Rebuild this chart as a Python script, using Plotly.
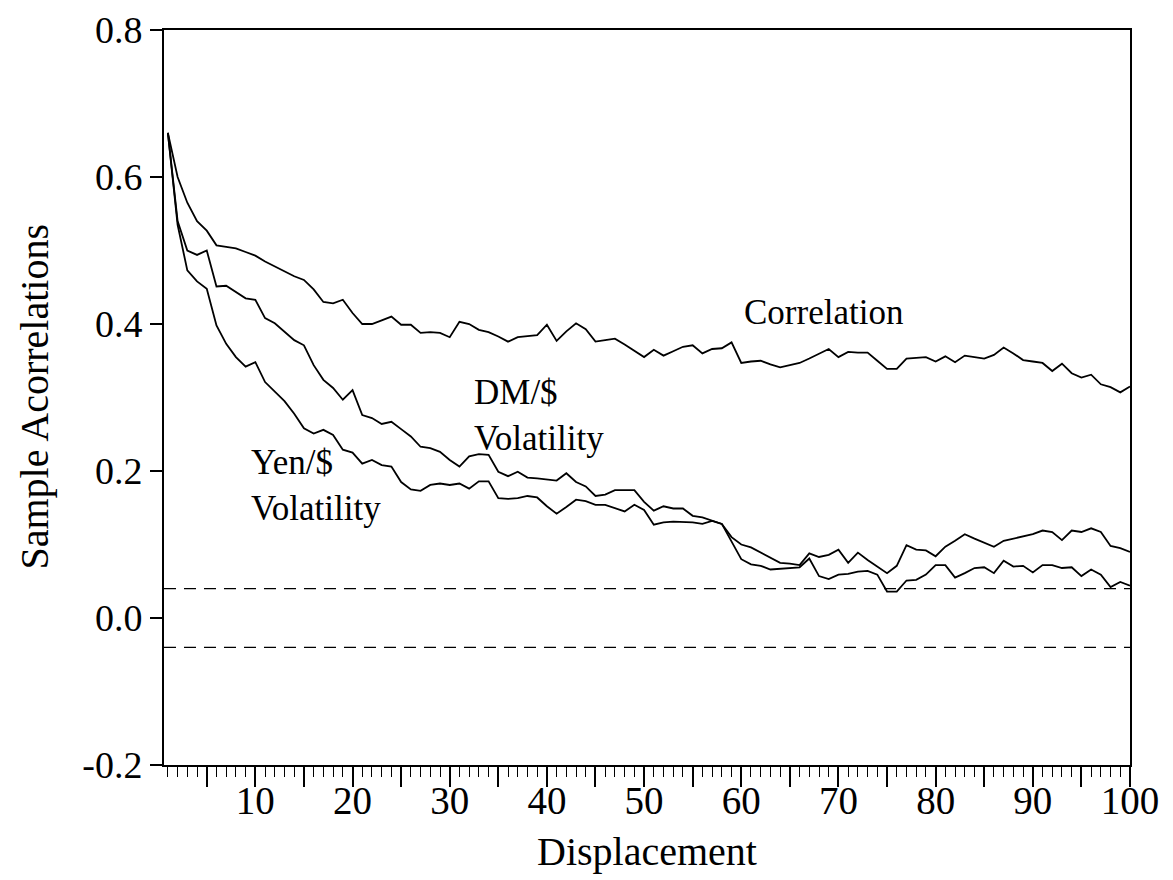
import plotly.graph_objects as go

lags = list(range(1, 101))

correlation = [
    0.66, 0.60, 0.565, 0.54, 0.527, 0.507, 0.505, 0.503, 0.498, 0.493,
    0.485, 0.478, 0.472, 0.465, 0.46, 0.447, 0.43, 0.428, 0.433, 0.415,
    0.40, 0.40, 0.405, 0.41, 0.399, 0.399, 0.388, 0.389, 0.388, 0.382,
    0.403, 0.40, 0.392, 0.389, 0.383, 0.376, 0.382, 0.384, 0.385, 0.399,
    0.377, 0.39, 0.401, 0.393, 0.376, 0.378, 0.38, 0.372, 0.364, 0.355,
    0.365, 0.357, 0.363, 0.369, 0.371, 0.36, 0.366, 0.367, 0.375, 0.347,
    0.349, 0.35, 0.345, 0.341, 0.344, 0.347, 0.353, 0.36, 0.366, 0.355,
    0.362, 0.361, 0.361, 0.35, 0.339, 0.339, 0.353, 0.354, 0.355, 0.349,
    0.356, 0.348, 0.357, 0.355, 0.353, 0.358, 0.368, 0.36, 0.351, 0.349,
    0.347, 0.336, 0.346, 0.333, 0.327, 0.331, 0.318, 0.314, 0.307, 0.315,
]

dm_vol = [
    0.66, 0.54, 0.50, 0.494, 0.50, 0.451, 0.452, 0.443, 0.435, 0.433,
    0.408, 0.401, 0.39, 0.378, 0.371, 0.344, 0.324, 0.313, 0.297, 0.31,
    0.276, 0.272, 0.264, 0.267, 0.257, 0.247, 0.233, 0.231, 0.226, 0.215,
    0.206, 0.22, 0.223, 0.222, 0.199, 0.193, 0.199, 0.191, 0.19, 0.189,
    0.187, 0.197, 0.185, 0.179, 0.166, 0.168, 0.174, 0.174, 0.174, 0.158,
    0.146, 0.152, 0.149, 0.149, 0.139, 0.137, 0.133, 0.128, 0.11, 0.10,
    0.096, 0.089, 0.082, 0.075, 0.074, 0.072, 0.088, 0.083, 0.086, 0.093,
    0.075, 0.089, 0.079, 0.07, 0.061, 0.071, 0.099, 0.093, 0.092, 0.084,
    0.097, 0.105, 0.114, 0.108, 0.103, 0.097, 0.105, 0.108, 0.111, 0.114,
    0.119, 0.117, 0.106, 0.119, 0.117, 0.122, 0.117, 0.098, 0.095, 0.09,
]

yen_vol = [
    0.66, 0.535, 0.473, 0.458, 0.448, 0.398, 0.373, 0.355, 0.342, 0.348,
    0.321, 0.308, 0.295, 0.278, 0.258, 0.251, 0.256, 0.249, 0.229, 0.225,
    0.21, 0.215, 0.208, 0.206, 0.185, 0.175, 0.173, 0.181, 0.183, 0.181,
    0.183, 0.176, 0.186, 0.186, 0.163, 0.162, 0.163, 0.166, 0.164, 0.152,
    0.142, 0.151, 0.161, 0.159, 0.154, 0.154, 0.15, 0.145, 0.154, 0.147,
    0.127, 0.13, 0.131, 0.131, 0.13, 0.128, 0.132, 0.128, 0.105, 0.08,
    0.073, 0.071, 0.066, 0.067, 0.069, 0.069, 0.081, 0.057, 0.053, 0.059,
    0.06, 0.063, 0.064, 0.059, 0.036, 0.036, 0.051, 0.052, 0.059, 0.072,
    0.072, 0.055, 0.061, 0.068, 0.069, 0.061, 0.078, 0.07, 0.071, 0.062,
    0.072, 0.072, 0.068, 0.069, 0.057, 0.066, 0.059, 0.042, 0.049, 0.044,
]

band = 0.04  # +/- 2 standard error bands

x_tickvals = list(range(5, 101, 5))
x_ticktext = [str(v) if v % 10 == 0 else "" for v in x_tickvals]
y_tickvals = [-0.2, 0.0, 0.2, 0.4, 0.6, 0.8]
y_ticktext = ["-0.2", "0.0", "0.2", "0.4", "0.6", "0.8"]

FONT = "Liberation Serif"
line_style = dict(color="black", width=1.8)

fig = go.Figure()
for name, ys in [("Correlation", correlation), ("DM/$ Volatility", dm_vol),
                 ("Yen/$ Volatility", yen_vol)]:
    fig.add_trace(go.Scatter(x=lags, y=ys, mode="lines", name=name,
                             line=line_style, showlegend=False))

for b in (band, -band):
    fig.add_trace(go.Scatter(x=[0.6, 100], y=[b, b], mode="lines",
                             line=dict(color="black", width=1.3, dash="12px,8px"),
                             showlegend=False, hoverinfo="skip"))

ann_font = dict(family=FONT, size=35, color="black")
fig.add_annotation(x=60.1, y=0.416, text="Correlation", showarrow=False,
                   xanchor="left", yanchor="middle", font=ann_font)
fig.add_annotation(x=32.3, y=0.275, text="DM/$<br>Volatility", showarrow=False,
                   xanchor="left", yanchor="middle", align="left", font=ann_font)
fig.add_annotation(x=9.3, y=0.18, text="Yen/$<br>Volatility", showarrow=False,
                   xanchor="left", yanchor="middle", align="left", font=ann_font)

# axis titles
title_font = dict(family=FONT, size=40, color="black")
fig.add_annotation(xref="paper", yref="paper", x=0.5, y=0, yshift=-86,
                   text="Displacement", showarrow=False,
                   xanchor="center", yanchor="middle", font=title_font)
fig.add_annotation(xref="paper", yref="paper", x=0, y=0.5, xshift=-130,
                   text="Sample Acorrelations", showarrow=False, textangle=-90,
                   xanchor="center", yanchor="middle", font=title_font)

# the page adds an 8px body margin, so the figure is trimmed by that amount
fig.update_layout(
    width=1165, height=872,
    margin=dict(l=156, r=43, t=22, b=115),
    paper_bgcolor="white", plot_bgcolor="white",
    font=dict(family=FONT, color="black"),
    xaxis=dict(
        range=[0.6, 100], showgrid=False, zeroline=False, automargin=False,
        showline=True, linecolor="black", linewidth=2, mirror=True,
        tickmode="array", tickvals=x_tickvals, ticktext=x_ticktext,
        ticks="outside", ticklen=20, tickwidth=1.5, tickcolor="black",
        ticklabelstandoff=-20,
        minor=dict(tickmode="linear", tick0=0, dtick=1, ticks="outside",
                   ticklen=10, tickwidth=1.2, tickcolor="black", showgrid=False),
        tickfont=dict(family=FONT, size=39, color="black"),
    ),
    yaxis=dict(
        range=[-0.2, 0.8], showgrid=False, zeroline=False, automargin=False,
        showline=True, linecolor="black", linewidth=2, mirror=True,
        tickmode="array", tickvals=y_tickvals, ticktext=y_ticktext,
        ticks="outside", ticklen=12, tickwidth=1.5, tickcolor="black",
        tickfont=dict(family=FONT, size=38, color="black"),
    ),
)

fig.write_html("out.html")
